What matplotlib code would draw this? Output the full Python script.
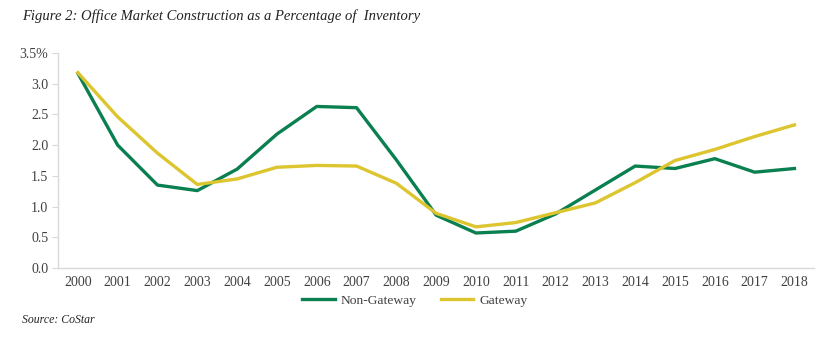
import matplotlib

matplotlib.use("Agg")
import matplotlib.pyplot as plt
from matplotlib.ticker import FuncFormatter

years = [str(y) for y in range(2000, 2019)]
non_gateway = [3.17, 2.00, 1.35, 1.26, 1.61, 2.18, 2.63, 2.61, 1.76, 0.86, 0.57, 0.60,
               0.88, 1.27, 1.66, 1.62, 1.78, 1.56, 1.62]
gateway = [3.18, 2.46, 1.87, 1.36, 1.45, 1.64, 1.67, 1.66, 1.38, 0.89, 0.67, 0.74,
           0.90, 1.06, 1.39, 1.75, 1.93, 2.14, 2.33]
yticks = [0.0, 0.5, 1.0, 1.5, 2.0, 2.5, 3.0, 3.5]

GREEN = "#0a7f50"
YELLOW = "#dcc52e"
TEXT = "#404040"
AXIS = "#d9d9d9"

plt.rcParams["font.family"] = ["Liberation Serif", "DejaVu Serif"]

fig = plt.figure(figsize=(8.33, 3.37), dpi=100)
ax = fig.add_axes([0.0696, 0.2047, 0.908, 0.638])

x = range(len(years))
ax.plot(x, non_gateway, color=GREEN, lw=2.4, label="Non-Gateway", solid_joinstyle="round")
ax.plot(x, gateway, color=YELLOW, lw=2.4, label="Gateway", solid_joinstyle="round")

ax.set_xlim(-0.5, len(years) - 0.5)
ax.set_ylim(0, 3.5)
ax.set_xticks(list(x))
ax.set_xticklabels(years)
ax.set_yticks(yticks)
ax.yaxis.set_major_formatter(FuncFormatter(lambda v, p: f"{v:.1f}%" if v == 3.5 else f"{v:.1f}"))

for side in ["top", "right"]:
    ax.spines[side].set_visible(False)
for side in ["left", "bottom"]:
    ax.spines[side].set_color(AXIS)
    ax.spines[side].set_linewidth(1.0)
ax.tick_params(axis="y", colors=AXIS, labelcolor=TEXT, labelsize=10, length=4, pad=3)
ax.tick_params(axis="x", length=0, labelcolor=TEXT, labelsize=10, pad=6)

fig.legend(loc="center", bbox_to_anchor=(0.498, 0.108), ncol=2, frameon=False,
           fontsize=9.7, handlelength=2.4, handletextpad=0.45, columnspacing=1.8,
           labelcolor=TEXT)

fig.text(0.026, 0.952, "Figure 2: Office Market Construction as a Percentage of  Inventory",
         fontsize=10.5, style="italic", color="#222222", va="center")
fig.text(0.026, 0.05, "Source: CoStar", fontsize=8.5, style="italic", color="#222222", va="center")

fig.savefig("out.png", dpi=100)
